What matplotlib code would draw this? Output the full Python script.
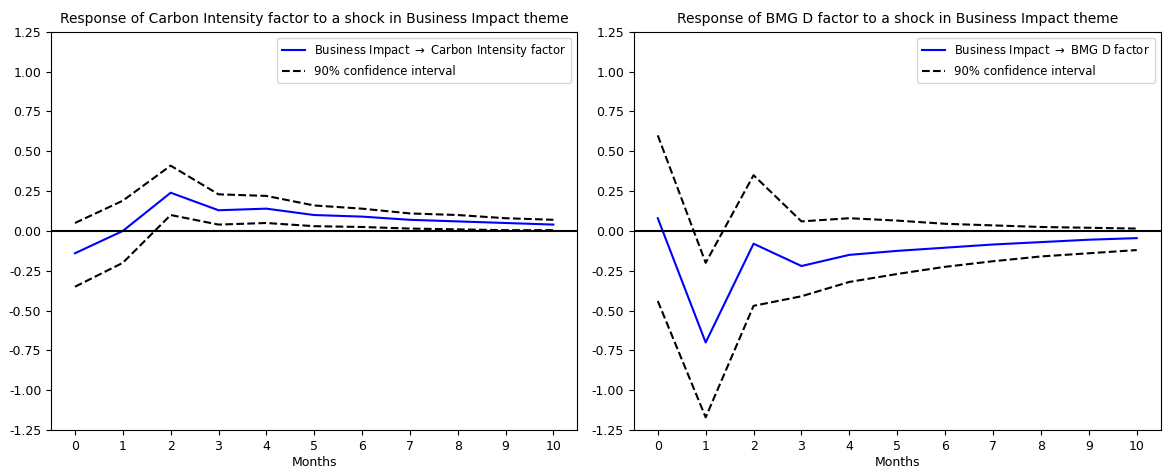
import matplotlib
matplotlib.use("Agg")
import matplotlib.pyplot as plt

plt.rcParams["axes.unicode_minus"] = False

months = list(range(11))

# Business Impact -> Carbon Intensity factor
ci_irf = [-0.14, 0.0, 0.24, 0.13, 0.14, 0.10, 0.09, 0.07, 0.06, 0.05, 0.04]
ci_upper = [0.05, 0.19, 0.41, 0.23, 0.22, 0.16, 0.14, 0.11, 0.10, 0.08, 0.07]
ci_lower = [-0.35, -0.20, 0.10, 0.04, 0.05, 0.03, 0.025, 0.015, 0.01, 0.005, 0.005]

# Business Impact -> BMG D factor
bmg_irf = [0.08, -0.70, -0.08, -0.22, -0.15, -0.125, -0.105, -0.085, -0.07, -0.055, -0.045]
bmg_upper = [0.60, -0.20, 0.35, 0.06, 0.08, 0.065, 0.045, 0.035, 0.025, 0.02, 0.015]
bmg_lower = [-0.44, -1.17, -0.47, -0.41, -0.32, -0.27, -0.225, -0.19, -0.16, -0.14, -0.12]

yticks = [-1.25, -1.0, -0.75, -0.5, -0.25, 0.0, 0.25, 0.5, 0.75, 1.0, 1.25]

panels = [
    ("Carbon Intensity factor", ci_irf, ci_upper, ci_lower),
    ("BMG D factor", bmg_irf, bmg_upper, bmg_lower),
]

fig = plt.figure(figsize=(11.63, 4.68), dpi=100)
axes = [fig.add_axes([0.0439, 0.081, 0.4525, 0.851]),
        fig.add_axes([0.545, 0.081, 0.453, 0.851])]

for ax, (name, irf, up, lo) in zip(axes, panels):
    ax.plot(months, irf, color="blue", label="Business Impact $\\rightarrow$ " + name)
    ax.plot(months, up, "k--", label="90% confidence interval")
    ax.plot(months, lo, "k--")
    ax.axhline(0, color="black", linewidth=1.5)
    ax.set_ylim(-1.25, 1.25)
    ax.set_yticks(yticks)
    ax.set_xticks(months)
    ax.tick_params(labelsize=9)
    ax.set_xlabel("Months", fontsize=9, labelpad=2)
    ax.set_title("Response of " + name + " to a shock in Business Impact theme", fontsize=10)
    ax.legend(loc="upper right", fontsize=8.4)

fig.savefig("out.png", dpi=100)
